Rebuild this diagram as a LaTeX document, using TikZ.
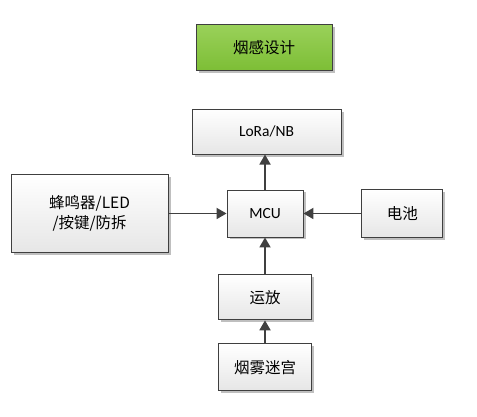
\documentclass[tikz,border=0pt]{standalone}
\usepackage{fontspec}
\setmainfont{Carlito}
\newfontfamily\cjk{Noto Sans CJK SC}
\usepackage{tikz}
\usetikzlibrary{arrows.meta,positioning,shadows}
\definecolor{edgegray}{HTML}{3F3F3F}
\definecolor{arrowgray}{HTML}{404040}
\definecolor{leafgreen}{HTML}{9AD15A}
\definecolor{mossgreen}{HTML}{7DBE36}
\definecolor{boxlow}{HTML}{E6E6E6}

\begin{document}
\begin{tikzpicture}[
  every node/.style={font=\fontsize{15.5}{20}\selectfont},
  blk/.style={draw=edgegray, line width=0.9pt, top color=white, bottom color=boxlow,
              align=center, inner sep=2pt,
              drop shadow={shadow xshift=2.5pt, shadow yshift=-2.5pt, fill=black, opacity=0.25}},
  titlebox/.style={blk, top color=leafgreen, bottom color=mossgreen},
  arr/.style={-{Triangle[length=10pt, width=11pt]}, line width=1.8pt, color=arrowgray},
]
  \useasboundingbox (0pt,0pt) rectangle (477pt,417pt);

  \node[blk, minimum width=76pt, minimum height=47pt] (mcu) at (265pt,203.5pt) {MCU};
  \node[blk, above=35pt of mcu, xshift=1.5pt, minimum width=149pt, minimum height=45pt] (lora) {LoRa/NB};
  \node[titlebox, above=38pt of lora, xshift=-2.5pt, minimum width=136pt, minimum height=46pt] (title) {\cjk 烟感设计};
  \node[blk, left=58pt of mcu, minimum width=157pt, minimum height=78pt] (alarm) {\cjk 蜂鸣器/LED\\\cjk /按键/防拆};
  \node[blk, right=58pt of mcu, minimum width=81pt, minimum height=48pt] (battery) {\cjk 电池};
  \node[blk, below=37pt of mcu, minimum width=93pt, minimum height=45pt] (opamp) {\cjk 运放};
  \node[blk, below=23pt of opamp, minimum width=93pt, minimum height=47pt] (maze) {\cjk 烟雾迷宫};

  \draw[arr] (mcu.north) -- (mcu.north |- lora.south);
  \draw[arr] (alarm) -- (mcu);
  \draw[arr] (battery) -- (mcu);
  \draw[arr] (opamp.north -| mcu) -- (mcu.south);
  \draw[arr] (maze) -- (opamp);
\end{tikzpicture}
\end{document}
